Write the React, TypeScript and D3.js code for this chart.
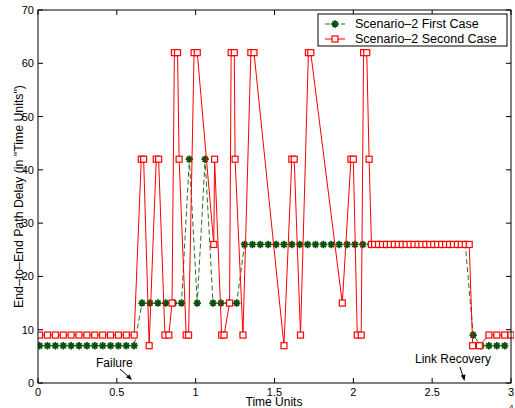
import React from "react";
import * as d3 from "d3";

// time in units of 10^4
const firstTimes = [
  0.01, 0.06, 0.11, 0.16, 0.21, 0.26, 0.31, 0.36, 0.41, 0.46, 0.51, 0.56, 0.61,
  0.66, 0.71, 0.76, 0.81, 0.86, 0.91,
  0.96, 1.01, 1.06, 1.11, 1.16, 1.21, 1.26,
  1.31, 1.36, 1.41, 1.46, 1.51, 1.56, 1.61, 1.66, 1.71, 1.76, 1.81, 1.86, 1.91, 1.96,
  2.01, 2.06, 2.11, 2.16, 2.21, 2.26, 2.31, 2.36, 2.41, 2.46, 2.51, 2.56, 2.61, 2.66, 2.71,
  2.76, 2.81, 2.86, 2.91, 2.96,
];
const firstDelay = [
  7, 7, 7, 7, 7, 7, 7, 7, 7, 7, 7, 7, 7,
  15, 15, 15, 15, 15, 15,
  42, 15, 42, 15, 15, 15, 15,
  26, 26, 26, 26, 26, 26, 26, 26, 26, 26, 26, 26, 26, 26,
  26, 26, 26, 26, 26, 26, 26, 26, 26, 26, 26, 26, 26, 26, 26,
  9, 7, 7, 7, 7,
];

const secondTimes = [
  0.01, 0.06, 0.11, 0.16, 0.21, 0.26, 0.31, 0.36, 0.41, 0.46, 0.51, 0.56, 0.61,
  0.655, 0.67, 0.705, 0.75, 0.765, 0.805, 0.83, 0.85, 0.865, 0.885, 0.895, 0.94, 0.955,
  0.99, 1.01, 1.115, 1.12, 1.165, 1.18, 1.215, 1.225, 1.245, 1.25, 1.3, 1.35, 1.37,
  1.56, 1.61, 1.625, 1.665, 1.715, 1.73, 1.93, 1.985, 2.0, 2.025, 2.05, 2.065, 2.085,
  2.1, 2.115,
  2.135, 2.16, 2.185, 2.21, 2.235, 2.26, 2.285, 2.31, 2.335, 2.36, 2.385, 2.41, 2.435,
  2.46, 2.485, 2.51, 2.535, 2.56, 2.585, 2.61, 2.635, 2.66, 2.685, 2.71, 2.735,
  2.757, 2.8, 2.86, 2.91, 2.96, 3.0,
];
const secondDelay = [
  9, 9, 9, 9, 9, 9, 9, 9, 9, 9, 9, 9, 9,
  42, 42, 7, 42, 42, 9, 9, 15, 62, 62, 42, 9, 9,
  62, 62, 26, 42, 9, 9, 15, 62, 62, 42, 9, 62, 62,
  7, 42, 42, 9, 62, 62, 15, 42, 42, 9, 9, 62, 62,
  42, 26,
  26, 26, 26, 26, 26, 26, 26, 26, 26, 26, 26, 26, 26,
  26, 26, 26, 26, 26, 26, 26, 26, 26, 26, 26, 26,
  7, 7, 9, 9, 9, 9,
];

const xTicks = [0, 0.5, 1, 1.5, 2, 2.5, 3];
const yTicks = [0, 10, 20, 30, 40, 50, 60, 70];
const seriesNames = ["Scenario\u20132 First Case", "Scenario\u20132 Second Case"];

const W = 515;
const H = 408;
const margin = { top: 10, right: 4, bottom: 25, left: 38 };
const GREEN_LINE = "#2a6a2a";
const GREEN_MARK = "#0a4f0a";
const RED = "#ff0000";
const FONT = "'Liberation Sans', Arial, Helvetica, sans-serif";

const Star = ({ x, y }: { x: number; y: number }) => {
  const r = 3.7;
  const d = r * 0.7071;
  return (
    <path
      d={`M${x - r},${y}L${x + r},${y}M${x},${y - r}L${x},${y + r}M${x - d},${y - d}L${x + d},${y + d}M${x - d},${y + d}L${x + d},${y - d}`}
      stroke={GREEN_MARK}
      strokeWidth={1.8}
    />
  );
};

const Square = ({ x, y }: { x: number; y: number }) => (
  <rect x={x - 3} y={y - 3} width={6} height={6} fill="white" stroke={RED} strokeWidth={1.2} />
);

const App = () => {
  const x = d3.scaleLinear().domain([0, 3]).range([margin.left, W - margin.right]);
  const y = d3.scaleLinear().domain([0, 70]).range([H - margin.bottom, margin.top]);

  const first = firstTimes.map((t, i) => [t, firstDelay[i]] as [number, number]);
  const second = secondTimes.map((t, i) => [t, secondDelay[i]] as [number, number]);

  const line = d3
    .line<[number, number]>()
    .x((d) => x(d[0]))
    .y((d) => y(d[1]));

  const x0 = x(0);
  const x1 = x(3);
  const y0 = y(0);
  const y1 = y(70);
  const tick = 5;

  // legend box
  const lg = { x: 318, y: 14, w: 189, h: 32 };

  return (
    <svg
      width={W}
      height={H}
      style={{ position: "absolute", left: 0, top: 0, background: "white" }}
      fontFamily={FONT}
    >
      <rect x={0} y={0} width={W} height={H} fill="white" />
      <defs>
        <clipPath id="plotclip">
          <rect x={x0} y={y1 - 5} width={x1 - x0 + 3} height={y0 - y1 + 10} />
        </clipPath>
      </defs>

      <g clipPath="url(#plotclip)">
        {/* first case */}
        <path d={line(first) || ""} fill="none" stroke={GREEN_LINE} strokeWidth={1} strokeDasharray="5,3" />
        {first.map((d, i) => (
          <Star key={"g" + i} x={x(d[0])} y={y(d[1])} />
        ))}
        {/* second case */}
        <path d={line(second) || ""} fill="none" stroke={RED} strokeWidth={1} />
        {second.map((d, i) => (
          <Square key={"r" + i} x={x(d[0])} y={y(d[1])} />
        ))}
      </g>

      {/* axes box */}
      <rect x={x0} y={y1} width={x1 - x0} height={y0 - y1} fill="none" stroke="black" strokeWidth={1} />

      {xTicks.map((t) => (
        <g key={"xt" + t}>
          <line x1={x(t)} x2={x(t)} y1={y0} y2={y0 - tick} stroke="black" />
          <line x1={x(t)} x2={x(t)} y1={y1} y2={y1 + tick} stroke="black" />
          <text x={x(t)} y={y0 + 13} fontSize={11} textAnchor="middle" fill="black">
            {t}
          </text>
        </g>
      ))}
      {yTicks.map((t) => (
        <g key={"yt" + t}>
          <line x1={x0} x2={x0 + tick} y1={y(t)} y2={y(t)} stroke="black" />
          <line x1={x1} x2={x1 - tick} y1={y(t)} y2={y(t)} stroke="black" />
          <text x={x0 - 4} y={y(t) + 4} fontSize={11} textAnchor="end" fill="black">
            {t}
          </text>
        </g>
      ))}

      {/* exponent, cut by the page edge as in the original */}
      <text x={497} y={416} fontSize={11} fill="black">
        10
      </text>
      <text x={509} y={410} fontSize={8} fill="black">
        4
      </text>

      {/* axis labels */}
      <text x={274} y={406} fontSize={12} textAnchor="middle" fill="black">
        Time Units
      </text>
      <text
        transform={`translate(23, ${(y0 + y1) / 2}) rotate(-90)`}
        fontSize={12.3}
        textAnchor="middle"
        fill="black"
      >
        {"End\u2013to\u2013End Path Delay (in \"Time Units\")"}
      </text>

      {/* annotations */}
      <text x={96} y={367} fontSize={12} fill="black">
        Failure
      </text>
      <line x1={120} y1={369} x2={130} y2={378} stroke="black" />
      <path d="M132,380 L126,377.5 L129.5,374.5 Z" fill="black" />
      <text x={415} y={363} fontSize={12} fill="black">
        Link Recovery
      </text>
      <line x1={460} y1={367} x2={463.5} y2={378} stroke="black" />
      <path d="M464.5,381 L460.8,375.5 L465.5,374.5 Z" fill="black" />

      {/* legend */}
      <rect x={lg.x} y={lg.y} width={lg.w} height={lg.h} fill="white" stroke="black" strokeWidth={1} />
      <line x1={325} x2={345} y1={24} y2={24} stroke={GREEN_LINE} strokeDasharray="5,3" />
      <Star x={335} y={24} />
      <text x={355} y={28} fontSize={12.5} fill="black">
        {seriesNames[0]}
      </text>
      <line x1={325} x2={345} y1={39} y2={39} stroke={RED} />
      <Square x={335} y={39} />
      <text x={355} y={43} fontSize={12.5} fill="black">
        {seriesNames[1]}
      </text>
    </svg>
  );
};

export default App;
